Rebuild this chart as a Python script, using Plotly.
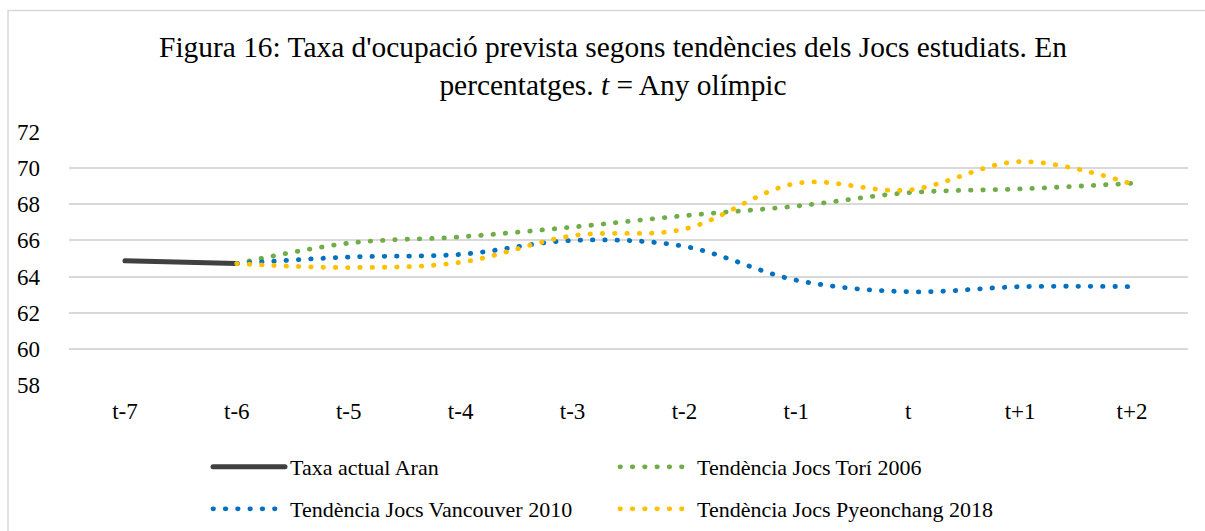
import plotly.graph_objects as go

categories = ["t-7", "t-6", "t-5", "t-4", "t-3", "t-2", "t-1", "t", "t+1", "t+2"]
aran = [64.87, 64.72, None, None, None, None, None, None, None, None]
tori = [None, 64.72, 65.85, 66.2, 66.74, 67.37, 67.9, 68.64, 68.85, 69.16]
vancouver = [None, 64.72, 65.08, 65.23, 66.0, 65.67, 63.8, 63.16, 63.44, 63.44]
pyeonchang = [None, 64.72, 64.5, 64.79, 66.26, 66.63, 69.16, 68.79, 70.36, 69.12]
y_ticks = [58, 60, 62, 64, 66, 68, 70, 72]

FONT = "Liberation Serif, Times New Roman, serif"
dot = "0.5px,11.8px"

W, H = 1205, 531
L, T, R, B = 69, 132, 17, 146
PW, PH = W - L - R, H - T - B


def px_x(p):
    return (p - L) / PW


def px_y(p):
    return (H - B - p) / PH


fig = go.Figure()
fig.add_trace(go.Scatter(x=categories, y=aran, name="Taxa actual Aran", mode="lines",
                         legend="legend",
                         line=dict(color="#404040", width=5, shape="spline")))
fig.add_trace(go.Scatter(x=categories, y=tori, name="Tendència Jocs Torí 2006", mode="lines",
                         legend="legend",
                         line=dict(color="#70AD47", width=4.8, dash=dot, shape="spline", smoothing=1)))
fig.add_trace(go.Scatter(x=categories, y=vancouver, name="Tendència Jocs Vancouver 2010", mode="lines",
                         legend="legend2",
                         line=dict(color="#0070C0", width=4.8, dash=dot, shape="spline", smoothing=1)))
fig.add_trace(go.Scatter(x=categories, y=pyeonchang, name="Tendència Jocs Pyeonchang 2018", mode="lines",
                         legend="legend2",
                         line=dict(color="#FFC000", width=4.8, dash=dot, shape="spline", smoothing=1)))

legend_common = dict(orientation="h", xref="container", yref="container",
                     x=208 / W, xanchor="left", yanchor="middle",
                     entrywidth=320, entrywidthmode="pixels",
                     font=dict(family=FONT, size=22, color="#000000"),
                     traceorder="normal", itemwidth=72, bgcolor="rgba(0,0,0,0)")

fig.update_layout(
    width=W, height=H,
    margin=dict(l=L, r=R, t=T, b=B, autoexpand=False),
    paper_bgcolor="white", plot_bgcolor="white",
    font=dict(family=FONT, size=22, color="#000000"),
    title=dict(text="Figura 16: Taxa d'ocupació prevista segons tendències dels Jocs estudiats. En<br>percentatges. <i>t</i> = Any olímpic",
               x=613 / W, xanchor="center", y=1 - 56.5 / H, yanchor="middle",
               font=dict(family=FONT, size=29.4, color="#000000")),
    xaxis=dict(type="category", showgrid=False, showline=False, ticks="",
               tickfont=dict(family=FONT, size=23), range=[-0.5, 9.5],
               ticklabelstandoff=10),
    yaxis=dict(range=[58, 72], tickvals=y_ticks, showgrid=True, gridcolor="#D9D9D9",
               gridwidth=1.5, zeroline=False, showline=False, ticks="",
               tickfont=dict(family=FONT, size=23), ticklabelstandoff=28),
    legend=dict(y=1 - 467 / H, **legend_common),
    legend2=dict(y=1 - 509 / H, **legend_common),
    shapes=[dict(type="rect", xref="paper", yref="paper",
                 x0=px_x(8), x1=1.1, y0=-0.7, y1=px_y(10.5),
                 line=dict(color="#D9D9D9", width=1.5), fillcolor="rgba(0,0,0,0)", layer="below")],
)

post = """
document.body.style.margin='0';
var gd = document.getElementById('{plot_id}');
function roundCaps(){
  gd.querySelectorAll('path.js-line, .legendlines path').forEach(function(p){
    p.style.strokeLinecap = 'round';
  });
}
roundCaps();
gd.on('plotly_afterplot', roundCaps);
"""

fig.write_html("out.html", config={"displayModeBar": False}, post_script=post)
